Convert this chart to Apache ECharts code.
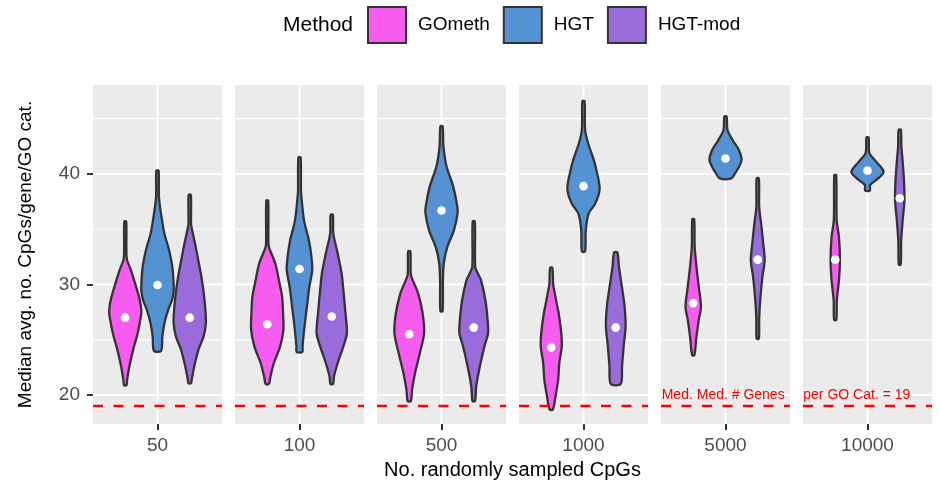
<!DOCTYPE html>
<html><head><meta charset="utf-8">
<script src="https://cdn.jsdelivr.net/npm/echarts@6/dist/echarts.min.js"></script>
<style>html,body{margin:0;padding:0;background:#fff}#c{width:941px;height:490px}</style>
</head><body><div id="c"></div>
<script>
// ---------------- data ----------------
const sampleSizes = ['50', '100', '500', '1000', '5000', '10000'];
const methods = ['GOmeth', 'HGT', 'HGT-mod'];
const yTicks = [20, 30, 40];
const yMinorGrid = [25, 35, 45];
const refLineValue = 19;

// medians (white points)
const gomethMedians = [27.0, 26.4, 25.5, 24.3, 28.3, 32.25];
const hgtMedians = [29.95, 31.4, 36.7, 38.9, 41.4, 40.3];
const hgtModMedians = [27.0, 27.1, 26.1, 26.1, 32.25, 37.8];

// violin profiles per sample size: [value, relative density (1 = widest violin)]
const gomethProfiles = [
  [[35.7,0.06],[33.5,0.07],[32.3,0.1],[31.3,0.35],[30.1,0.61],[28.6,0.9],[27.6,1.0],[27.1,0.97],[25.6,0.77],[24.1,0.49],[22.6,0.26],[21.4,0.12],[20.9,0.08]],
  [[37.6,0.06],[34.0,0.07],[33.4,0.1],[31.9,0.5],[30.4,0.72],[28.9,0.92],[27.4,0.98],[25.9,1.0],[24.4,0.8],[22.9,0.41],[21.7,0.2],[21.0,0.1]],
  [[33.0,0.07],[30.9,0.1],[30.1,0.3],[29.2,0.55],[27.4,0.83],[25.6,0.92],[23.8,0.66],[22.0,0.36],[20.45,0.17],[19.46,0.1]],
  [[31.5,0.07],[30.0,0.12],[29.2,0.22],[28.2,0.35],[27.4,0.46],[25.6,0.62],[24.4,0.65],[22.9,0.5],[21.4,0.43],[19.85,0.26],[18.7,0.1]],
  [[35.9,0.06],[33.4,0.09],[31.6,0.2],[29.8,0.34],[28.0,0.48],[26.8,0.34],[25.3,0.2],[23.6,0.07]],
  [[39.9,0.06],[35.8,0.09],[34.3,0.23],[32.2,0.29],[30.4,0.23],[28.6,0.1],[26.8,0.07]]
];
const hgtProfiles = [
  [[40.3,0.07],[37.9,0.09],[36.1,0.25],[34.6,0.43],[33.1,0.72],[31.6,0.92],[30.1,1.0],[29.4,1.0],[28.6,0.9],[27.7,0.66],[26.5,0.43],[25.3,0.3],[24.0,0.22]],
  [[41.5,0.07],[38.5,0.09],[37.9,0.12],[35.8,0.28],[34.0,0.58],[32.5,0.74],[31.3,0.79],[29.8,0.61],[28.0,0.46],[26.2,0.31],[24.4,0.19],[23.9,0.18]],
  [[44.3,0.07],[42.5,0.12],[40.7,0.31],[38.9,0.72],[37.3,0.95],[36.5,1.0],[34.9,0.77],[33.4,0.36],[31.9,0.14],[30.4,0.09],[27.6,0.07]],
  [[46.6,0.07],[44.0,0.1],[42.8,0.28],[41.3,0.63],[40.1,0.84],[38.6,1.0],[37.3,0.72],[36.4,0.31],[34.9,0.14],[33.0,0.1]],
  [[45.2,0.07],[44.0,0.12],[43.1,0.43],[42.2,0.82],[41.3,1.0],[40.7,0.85],[40.1,0.61],[39.6,0.36]],
  [[43.3,0.07],[41.9,0.12],[41.1,0.55],[40.2,1.0],[39.6,0.66],[39.0,0.16],[38.5,0.15]]
];
const hgtModProfiles = [
  [[38.1,0.07],[35.5,0.08],[34.9,0.15],[33.7,0.33],[32.2,0.53],[30.7,0.72],[29.2,0.87],[27.7,0.97],[26.5,1.0],[25.3,0.86],[24.1,0.54],[22.6,0.28],[21.4,0.12],[21.06,0.08]],
  [[36.3,0.07],[34.6,0.1],[32.8,0.37],[31.0,0.61],[29.2,0.74],[27.4,0.85],[25.6,0.94],[24.4,0.72],[22.9,0.37],[21.7,0.14],[21.0,0.08]],
  [[35.7,0.07],[31.6,0.09],[31.0,0.25],[30.4,0.45],[28.6,0.72],[26.8,0.86],[25.6,0.89],[24.4,0.66],[22.6,0.38],[20.75,0.15],[19.46,0.08]],
  [[32.9,0.1],[31.6,0.2],[29.8,0.38],[28.0,0.55],[26.2,0.61],[24.4,0.49],[22.6,0.39],[21.0,0.31]],
  [[39.6,0.07],[37.0,0.09],[35.5,0.21],[33.7,0.34],[32.2,0.43],[30.7,0.29],[28.9,0.17],[27.0,0.09],[25.1,0.07]],
  [[44.0,0.07],[42.5,0.1],[41.3,0.17],[39.5,0.26],[37.6,0.29],[35.8,0.18],[34.0,0.09],[31.8,0.06]]
];

// ---------------- styling / layout ----------------
const methodColors = ['#F65CEF', '#5592D4', '#9A6BDA'];
const FONT = '"Liberation Sans", Arial, Helvetica, sans-serif';
const panelLeft = 93, panelStep = 142, panelW = 129, panelTop = 85, panelH = 339;
const yMin = 17.38, yMax = 48.05;
const profilesByMethod = [gomethProfiles, hgtProfiles, hgtModProfiles];
const mediansByMethod = [gomethMedians, hgtMedians, hgtModMedians];
const dodge = [-0.3, 0, 0.3];   // ggplot dodge offsets in category units
const halfMax = 0.15;           // half of violin width in category units

const chart = echarts.init(document.getElementById('c'));
const grids = [], xAxes = [], yAxes = [], series = [];

sampleSizes.forEach((s, i) => {
  grids.push({left: panelLeft + i * panelStep, top: panelTop, width: panelW, height: panelH,
    show: true, backgroundColor: '#EBEBEB', borderWidth: 0});
  xAxes.push({type: 'category', gridIndex: i, data: [s], boundaryGap: true,
    axisLine: {show: false},
    axisTick: {show: true, alignWithLabel: true, length: 6, lineStyle: {color: '#333333', width: 2}},
    axisLabel: {fontSize: 19, color: '#4D4D4D', margin: 12, fontFamily: FONT},
    splitLine: {show: false}});
  yAxes.push({type: 'value', gridIndex: i, min: yMin, max: yMax,
    axisLine: {show: false},
    axisTick: {show: i === 0, length: 6, lineStyle: {color: '#333333', width: 2}, customValues: yTicks},
    axisLabel: {show: i === 0, customValues: yTicks, fontSize: 19, color: '#4D4D4D', margin: 13, fontFamily: FONT},
    splitLine: {show: false}});

  // background grid lines (white)
  const gridItems = yTicks.map(v => [0, v, 0]).concat(yMinorGrid.map(v => [0, v, 1]));
  gridItems.push([0, yMin, 2]);
  series.push({type: 'custom', xAxisIndex: i, yAxisIndex: i, silent: true, z: 1,
    data: gridItems,
    renderItem: (params, api) => {
      const cs = params.coordSys;
      const kind = api.value(2);
      if (kind === 2) {
        const x = api.coord([0, yMin])[0];
        return {type: 'line', shape: {x1: x, y1: cs.y, x2: x, y2: cs.y + cs.height},
          style: {stroke: '#FFFFFF', lineWidth: 2}};
      }
      const y = api.coord([0, api.value(1)])[1];
      return {type: 'line', shape: {x1: cs.x, y1: y, x2: cs.x + cs.width, y2: y},
        style: {stroke: '#FFFFFF', lineWidth: kind === 0 ? 2 : 1.2}};
    }});

  // violins
  methods.forEach((m, k) => {
    const prof = profilesByMethod[k][i];
    series.push({type: 'custom', name: m, xAxisIndex: i, yAxisIndex: i, z: 3,
      itemStyle: {color: methodColors[k]},
      data: [[0, mediansByMethod[k][i]]],
      renderItem: (params, api) => {
        const bw = api.size([1, 0])[0];
        const unit = bw / 1.2;
        const cx = api.coord([0, api.value(1)])[0] + dodge[k] * unit;
        const half = halfMax * unit;
        const right = prof.map(([v, f]) => [cx + f * half, api.coord([0, v])[1]]);
        const left = prof.slice().reverse().map(([v, f]) => [cx - f * half, api.coord([0, v])[1]]);
        const med = api.coord([0, api.value(1)]);
        return {type: 'group', children: [
          {type: 'polygon', shape: {points: right.concat(left), smooth: 0.3},
            style: {fill: methodColors[k], stroke: '#333333', lineWidth: 2.3, lineJoin: 'round'}},
          {type: 'circle', shape: {cx: cx, cy: med[1], r: 4.3}, style: {fill: '#FFFFFF'}}
        ]};
      }});
  });

  // red reference line
  series.push({type: 'custom', xAxisIndex: i, yAxisIndex: i, silent: true, z: 5,
    data: [[0, refLineValue]],
    renderItem: (params, api) => {
      const cs = params.coordSys;
      const y = api.coord([0, api.value(1)])[1];
      return {type: 'line', shape: {x1: cs.x, y1: y, x2: cs.x + cs.width, y2: y},
        style: {stroke: '#FF0000', lineWidth: 2.5, lineDash: [10, 10.5]}};
    }});
});

chart.setOption({
  animation: false,
  textStyle: {fontFamily: FONT},
  grid: grids, xAxis: xAxes, yAxis: yAxes, series: series,
  legend: {data: methods, left: 362, top: 1, itemWidth: 38, itemHeight: 36, itemGap: 13,
    icon: 'rect', itemStyle: {borderColor: '#333333', borderWidth: 2},
    textStyle: {fontSize: 19, color: '#000000', fontFamily: FONT, padding: [0, 0, 0, 7]}},
  graphic: [
    {type: 'text', z: 10, x: 283, y: 25, style: {text: 'Method', font: '21px ' + FONT, fill: '#000', verticalAlign: 'middle'}},
    {type: 'text', z: 10, x: 512.5, y: 470, style: {text: 'No. randomly sampled CpGs', font: '20px ' + FONT, fill: '#000', align: 'center', verticalAlign: 'middle'}},
    {type: 'text', z: 10, x: 26, y: 254.5, rotation: Math.PI / 2, style: {text: 'Median avg. no. CpGs/gene/GO cat.', font: '19px ' + FONT, fill: '#000', align: 'center', verticalAlign: 'middle'}},
    {type: 'text', z: 10, x: 661.7, y: 395, style: {text: 'Med. Med. # Genes', font: '14px ' + FONT, fill: '#FF0000', verticalAlign: 'middle'}},
    {type: 'text', z: 10, x: 803.3, y: 395, style: {text: 'per GO Cat. = 19', font: '14px ' + FONT, fill: '#FF0000', verticalAlign: 'middle'}}
  ]
});
</script></body></html>
